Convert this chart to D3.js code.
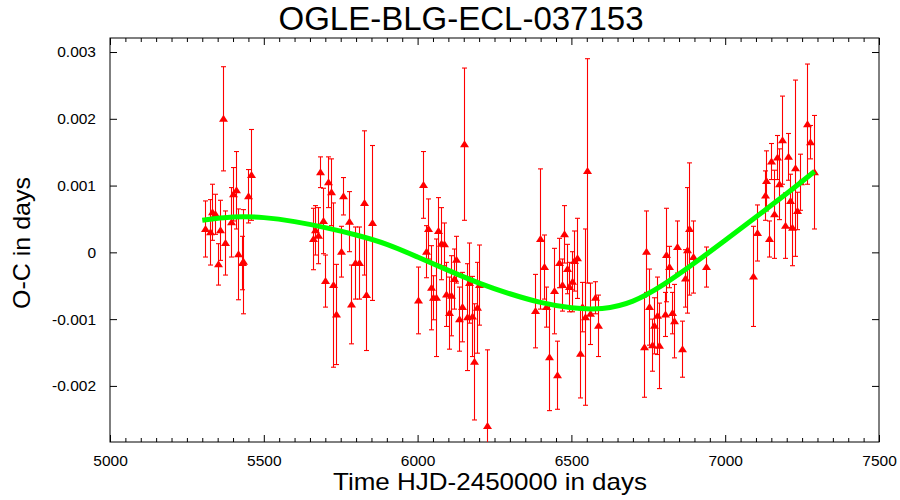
<!DOCTYPE html>
<html><head><meta charset="utf-8">
<script src="https://cdn.jsdelivr.net/npm/d3@7"></script>
<style>body{margin:0;background:#fff} svg{display:block} text{font-family:"Liberation Sans",Arial,sans-serif}</style>
</head><body><svg id="c" width="900" height="500"></svg>
<script>
const title = "OGLE-BLG-ECL-037153";
const xLabel = "Time HJD-2450000 in days";
const yLabel = "O-C in days";
const xTicks = [5000, 5500, 6000, 6500, 7000, 7500];
const xTickLabels = ["5000", "5500", "6000", "6500", "7000", "7500"];
const yTicks = [-0.002, -0.001, 0, 0.001, 0.002, 0.003];
const yTickLabels = ["-0.002", "-0.001", "0", "0.001", "0.002", "0.003"];

const days = [5308,5325,5332,5341,5358,5350,5367,5374,5392,5400,5408,5417,5428,5433,5449,5458,
  5660,5668,5683,5693,5676,5709,5720,5699,5725,5734,5757,5751,5777,5783,5798,5808,5825,5832,5851,
  6017,6150,6033,6066,6077,6085,6028,6001,6124,6044,6050,6061,6091,6107,6102,6117,6166,6201,6144,6134,6160,6176,6193,6183,6225,
  6399,6475,6551,6383,6410,6418,6426,6443,6452,6459,6468,6485,6491,6501,6510,6517,6527,6535,6544,6561,6577,6585,
  6744,6751,6735,6761,6767,6777,6784,6804,6809,6818,6827,6834,6842,6861,6869,6877,6883,6894,6937,
  7092,7102,7128,7134,7144,7150,7160,7170,7176,7186,7193,7203,7210,7216,7228,7235,7244,7267,7276,7288];
const oc = [0.00035,0.00030,0.00060,0.00057,0.00033,-0.00018,0.00200,0.00014,0.00045,0.00087,0.00093,-0.00003,-0.00016,-0.00014,0.00084,0.00116,
  0.00020,0.00033,0.00120,0.00047,0.00025,0.00105,0.00090,-0.00043,-0.00049,-0.00093,0.00084,0.00001,0.00046,-0.00078,-0.00016,-0.00016,0.00074,-0.00064,0.00044,
  0.00101,0.00162,0.00035,0.00032,0.00013,0.00012,0.00001,-0.00072,-0.00011,-0.00053,-0.00068,-0.00068,-0.00063,-0.00065,-0.00091,-0.00040,-0.00046,-0.00049,-0.00082,-0.00100,-0.00097,-0.00096,-0.00083,-0.00164,-0.00260,
  0.00020,0.00027,0.00122,-0.00088,-0.00022,-0.00082,-0.00157,-0.00058,-0.00184,-0.00016,-0.00049,-0.00025,-0.00052,-0.00044,-0.00013,-0.00009,-0.00152,-0.00082,-0.00097,-0.00092,-0.00068,-0.00110,
  0.00001,-0.00082,-0.00142,-0.00139,-0.00110,-0.00095,-0.00140,-0.00093,-0.00004,-0.00022,-0.00091,-0.00103,0.00008,-0.00145,-0.00039,0.00003,0.00035,-0.00007,-0.00022,
  -0.00036,0.00029,0.00085,0.00107,0.00020,0.00136,0.00057,0.00142,0.00102,0.00168,0.00040,0.00143,0.00077,0.00037,0.00126,0.00062,0.00105,0.00192,0.00165,0.00120];
const err = [0.00042,0.00049,0.00042,0.00030,0.00045,0.00031,0.00078,0.00048,0.00052,0.00040,0.00058,0.00068,0.00040,0.00078,0.00040,0.00068,
  0.00046,0.00037,0.00023,0.00049,0.00042,0.00038,0.00050,0.00039,0.00123,0.00075,0.00028,0.00038,0.00045,0.00059,0.00054,0.00054,0.00108,0.00083,0.00116,
  0.00050,0.00114,0.00045,0.00050,0.00054,0.00032,0.00039,0.00050,0.00035,0.00063,0.00033,0.00088,0.00048,0.00060,0.00054,0.00045,0.00060,0.00060,0.00052,0.00048,0.00080,0.00060,0.00068,0.00087,0.00114,
  0.00105,0.00043,0.00168,0.00055,0.00048,0.00030,0.00080,0.00064,0.00051,0.00037,0.00039,0.00037,0.00037,0.00045,0.00045,0.00060,0.00066,0.00037,0.00132,0.00046,0.00024,0.00046,
  0.00061,0.00057,0.00075,0.00039,0.00042,0.00058,0.00064,0.00033,0.00070,0.00031,0.00031,0.00055,0.00039,0.00042,0.00043,0.00094,0.00099,0.00054,0.00030,
  0.00075,0.00042,0.00037,0.00045,0.00027,0.00027,0.00066,0.00033,0.00053,0.00066,0.00049,0.00035,0.00040,0.00057,0.00132,0.00028,0.00042,0.00090,0.00025,0.00085];

const fitDays = [5300,5400,5500,5600,5700,5800,5900,6000,6100,6200,6300,6400,6500,6600,6700,6800,6900,7000,7100,7200,7290];
const fitOC = [0.00048,0.00053,0.00052,0.00046,0.00037,0.00026,0.00012,-0.00007,-0.00027,-0.00046,-0.00062,-0.00075,-0.00083,-0.00084,-0.00073,-0.00048,-0.00016,0.00018,0.00053,0.00088,0.00121];

const svg = d3.select("#c");
const L = 110, R = 879, T = 38, B = 442;
const x = d3.scaleLinear().domain([5000, 7500]).range([L, R]);
const y = d3.scaleLinear().domain([-0.00284, 0.00321]).range([B, T]);

svg.append("defs").append("clipPath").attr("id", "clip")
  .append("rect").attr("x", L).attr("y", T).attr("width", R - L).attr("height", B - T);

const tickFont = "15.5px";
const minorX = d3.range(5050, 7500, 50).filter(v => v % 500 !== 0);
svg.append("g").attr("transform", `translate(0,${B})`)
  .call(d3.axisBottom(x).tickValues(xTicks).tickFormat((d,i) => xTickLabels[i]).tickSize(-7).tickPadding(13));
svg.append("g").attr("transform", `translate(0,${B})`)
  .call(d3.axisBottom(x).tickValues(minorX).tickFormat("").tickSize(-4));
svg.append("g").attr("transform", `translate(0,${T})`)
  .call(d3.axisTop(x).tickValues(xTicks).tickFormat("").tickSize(-7));
svg.append("g").attr("transform", `translate(0,${T})`)
  .call(d3.axisTop(x).tickValues(minorX).tickFormat("").tickSize(-4));
svg.append("g").attr("transform", `translate(${L},0)`)
  .call(d3.axisLeft(y).tickValues(yTicks).tickFormat((d,i) => yTickLabels[i]).tickSize(-7).tickPadding(14));
svg.append("g").attr("transform", `translate(${R},0)`)
  .call(d3.axisRight(y).tickValues(yTicks).tickFormat("").tickSize(-7));
svg.selectAll(".domain").remove();
svg.selectAll(".tick line").attr("stroke", "#000");
svg.selectAll(".tick text").attr("font-size", tickFont).attr("fill", "#000")
  .attr("font-family", '"Liberation Sans", Arial, sans-serif');

svg.append("rect").attr("x", L).attr("y", T).attr("width", R - L).attr("height", B - T)
  .attr("fill", "none").attr("stroke", "#000").attr("stroke-width", 1);

const plot = svg.append("g").attr("clip-path", "url(#clip)");
// error bars
const pts = days.map((d, i) => ({d, v: oc[i], e: err[i]}));
const eb = plot.append("g").attr("stroke", "#ff0000").attr("stroke-width", 1.1).attr("fill", "none");
pts.forEach(p => {
  const px = Math.round(x(p.d)) + 0.5;
  const y1 = y(p.v + p.e), y2 = y(p.v - p.e);
  eb.append("line").attr("x1", px).attr("x2", px).attr("y1", y1).attr("y2", y2);
  eb.append("line").attr("x1", px - 2.5).attr("x2", px + 2.5).attr("y1", y1).attr("y2", y1);
  eb.append("line").attr("x1", px - 2.5).attr("x2", px + 2.5).attr("y1", y2).attr("y2", y2);
});
plot.append("g").selectAll("path").data(pts).join("path")
  .attr("d", "M0,-4L4.5,3L-4.5,3Z")
  .attr("transform", p => `translate(${Math.round(x(p.d)) + 0.5},${y(p.v)})`)
  .attr("fill", "#ff0000");

// fit curve
const line = d3.line().x(d => x(d[0])).y(d => y(d[1])).curve(d3.curveNatural);
plot.append("path").datum(fitDays.map((d, i) => [d, fitOC[i]]))
  .attr("d", line).attr("fill", "none").attr("stroke", "#00ff00").attr("stroke-width", 5);

// labels
svg.append("text").attr("x", 461).attr("y", 30).attr("text-anchor", "middle")
  .attr("font-size", "33px").text(title);
svg.append("text").attr("x", 490).attr("y", 490).attr("text-anchor", "middle")
  .attr("font-size", "24px").attr("textLength", 314).attr("lengthAdjust", "spacingAndGlyphs").text(xLabel);
svg.append("text").attr("transform", "translate(30,243) rotate(-90)").attr("text-anchor", "middle")
  .attr("font-size", "24px").attr("textLength", 132).attr("lengthAdjust", "spacingAndGlyphs").text(yLabel);
</script></body></html>
